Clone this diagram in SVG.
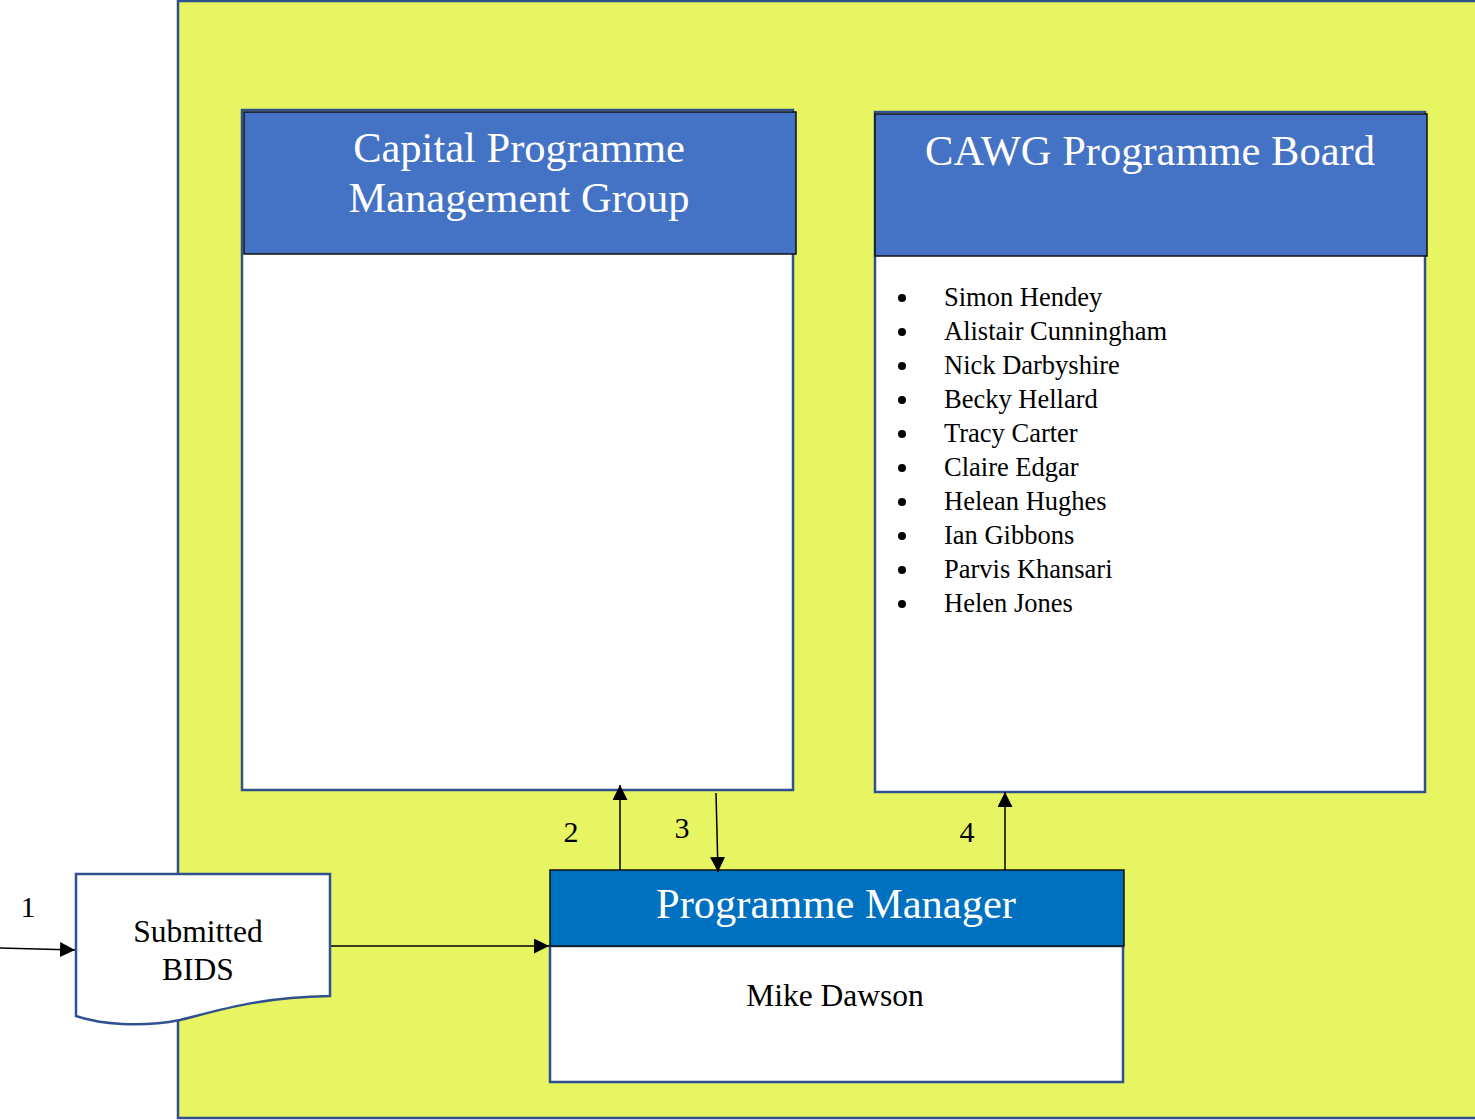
<svg xmlns="http://www.w3.org/2000/svg" width="1475" height="1120" viewBox="0 0 1475 1120">
<style>
.t{font-family:"Liberation Serif","Times New Roman",serif;}
.hdr{font-size:42.5px;fill:#fff;text-anchor:middle;}
.lbl{font-size:30px;fill:#000;text-anchor:middle;}
.li{font-size:26.5px;fill:#000;}
.box{fill:#fff;stroke:#2F528F;stroke-width:2.5;}
.hd{fill:#4472C4;stroke:#111;stroke-width:1.5;}
.ln{stroke:#000;stroke-width:1.5;fill:none;}
</style>
<defs>
<marker id="ah" viewBox="0 0 10 10" refX="10" refY="5" markerWidth="15" markerHeight="15" markerUnits="userSpaceOnUse" orient="auto">
<path d="M0,0 L10,5 L0,10 z" fill="#000"/>
</marker>
</defs>
<rect x="178" y="1" width="1310" height="1117" fill="#E8F562" stroke="#2F528F" stroke-width="2.5"/>
<g id="cpmg">
<rect class="box" x="242" y="110" width="551" height="680"/>
<rect class="hd" x="244" y="112" width="552" height="142"/>
<text class="t hdr" x="519" y="162">Capital Programme</text>
<text class="t hdr" x="519" y="212">Management Group</text>
</g>
<g id="cawg">
<rect class="box" x="875" y="112" width="550" height="680"/>
<rect class="hd" x="875" y="114" width="552" height="142"/>
<text class="t hdr" x="1150" y="165">CAWG Programme Board</text>
<g fill="#000">
<circle cx="902" cy="298" r="4"/><circle cx="902" cy="332" r="4"/><circle cx="902" cy="366" r="4"/><circle cx="902" cy="400" r="4"/><circle cx="902" cy="434" r="4"/><circle cx="902" cy="468" r="4"/><circle cx="902" cy="502" r="4"/><circle cx="902" cy="536" r="4"/><circle cx="902" cy="570" r="4"/><circle cx="902" cy="604" r="4"/>
</g>
<text class="t li" x="944" y="306">Simon Hendey</text>
<text class="t li" x="944" y="340">Alistair Cunningham</text>
<text class="t li" x="944" y="374">Nick Darbyshire</text>
<text class="t li" x="944" y="408">Becky Hellard</text>
<text class="t li" x="944" y="442">Tracy Carter</text>
<text class="t li" x="944" y="476">Claire Edgar</text>
<text class="t li" x="944" y="510">Helean Hughes</text>
<text class="t li" x="944" y="544">Ian Gibbons</text>
<text class="t li" x="944" y="578">Parvis Khansari</text>
<text class="t li" x="944" y="612">Helen Jones</text>
</g>
<g id="pm">
<rect class="box" x="550" y="946" width="573" height="136"/>
<rect x="550" y="870" width="574" height="76" fill="#0070C0" stroke="#111" stroke-width="1.5"/>
<text class="t hdr" x="836" y="918">Programme Manager</text>
<text class="t" x="835" y="1006" font-size="31.5" text-anchor="middle" fill="#000">Mike Dawson</text>
</g>
<g id="bids">
<path d="M76,874 L330,874 L330,996 C260,997 220,1010 180,1020 C140,1028 100,1024 76,1016 Z" fill="#fff" stroke="#2F528F" stroke-width="2.5"/>
<text class="t" x="198" y="942" font-size="31.5" text-anchor="middle" fill="#000">Submitted</text>
<text class="t" x="198" y="980" font-size="31.5" text-anchor="middle" fill="#000">BIDS</text>
</g>
<g id="connectors">
<line class="ln" x1="0" y1="948" x2="75" y2="950" marker-end="url(#ah)"/>
<line class="ln" x1="331" y1="946" x2="549" y2="946" marker-end="url(#ah)"/>
<line class="ln" x1="620" y1="870" x2="620" y2="785" marker-end="url(#ah)"/>
<line class="ln" x1="716" y1="793" x2="718" y2="872" marker-end="url(#ah)"/>
<line class="ln" x1="1005" y1="870" x2="1005" y2="792" marker-end="url(#ah)"/>
</g>
<g id="labels">
<text class="t lbl" x="28" y="917">1</text>
<text class="t lbl" x="571" y="842">2</text>
<text class="t lbl" x="682" y="838">3</text>
<text class="t lbl" x="967" y="842">4</text>
</g>
</svg>
